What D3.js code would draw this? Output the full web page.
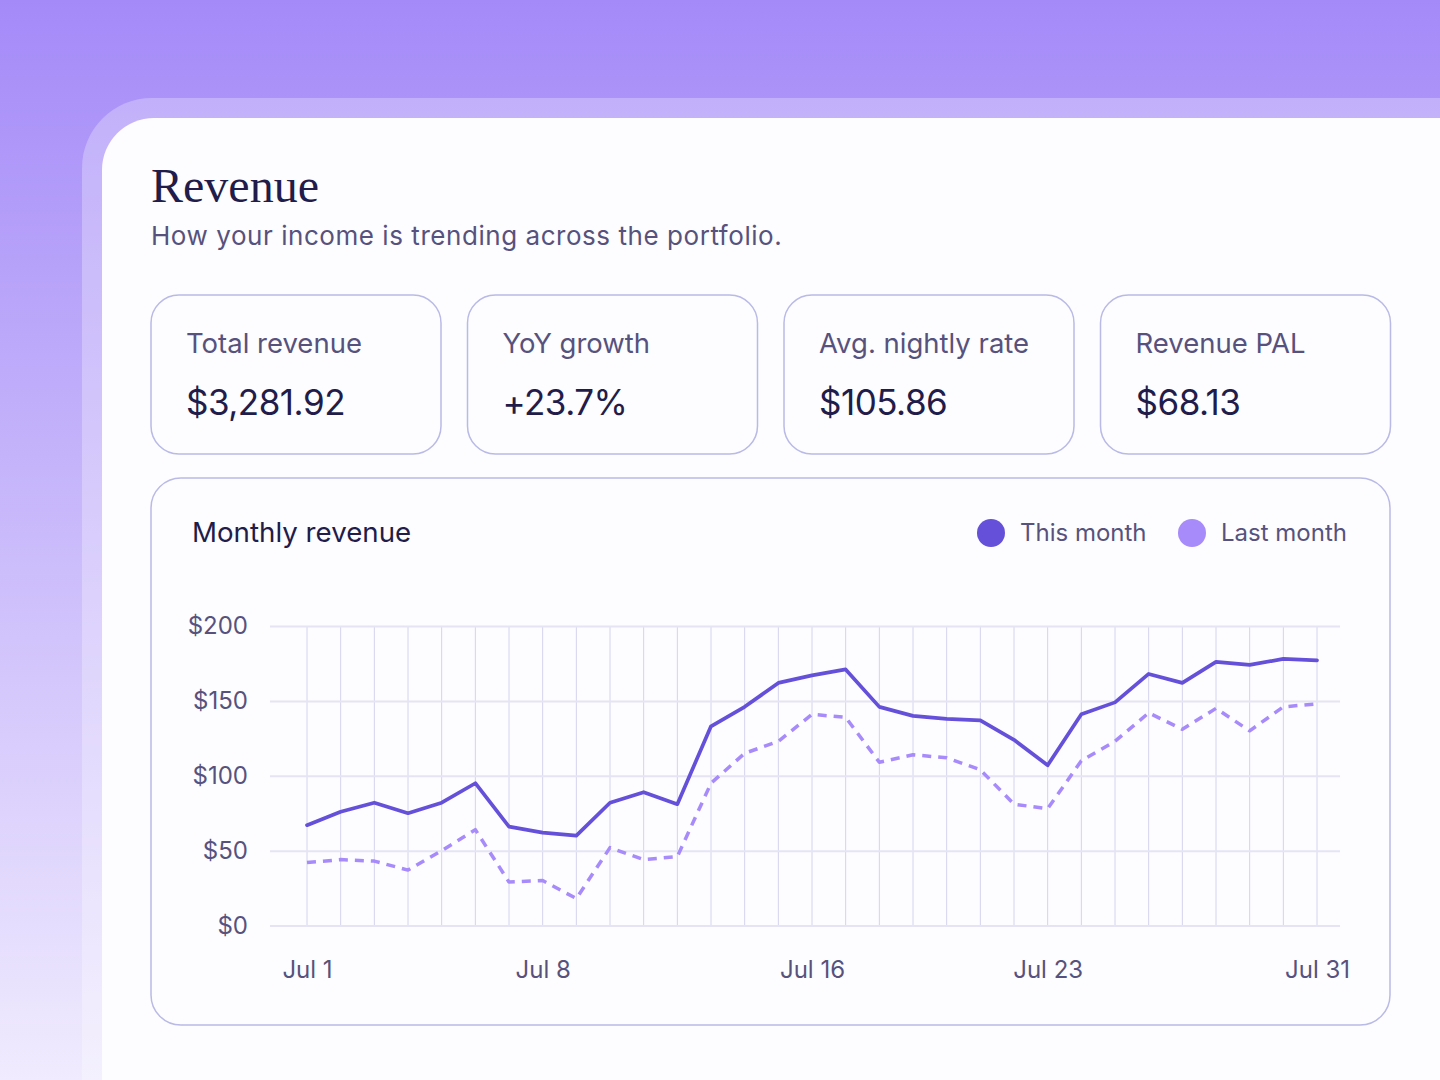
<!DOCTYPE html>
<html>
<head>
<meta charset="utf-8">
<script src="https://cdn.jsdelivr.net/npm/d3@7"></script>
<style>
  html, body { margin: 0; padding: 0; background: #fdfdff; }
  svg { display: block; }
</style>
</head>
<body>
<div id="chart"></div>
<script>
// Days of July (category axis)
const days = [1, 2, 3, 4, 5, 6, 7, 8, 9, 10, 11, 12, 13, 14, 15, 16,
  17, 18, 19, 20, 21, 22, 23, 24, 25, 26, 27, 28, 29, 30, 31];

const thisMonth = [67, 76, 82, 75, 82, 95, 66, 62, 60, 82, 89, 81, 133, 146, 162, 167,
  171, 146, 140, 138, 137, 124, 107, 141, 149, 168, 162, 176, 174, 178, 177];

const lastMonth = [42, 44, 43, 37, 50, 64, 29, 30, 18, 52, 44, 46, 95, 115, 123, 141,
  139, 109, 114, 112, 104, 81, 78, 110, 123, 142, 131, 145, 130, 146, 148];

const xTicks = [1, 8, 16, 23, 31];
const yTicks = [0, 50, 100, 150, 200];

const kpiLabels = ["Total revenue", "YoY growth", "Avg. nightly rate", "Revenue PAL"];
const kpiValues = ["$3,281.92", "+23.7%", "$105.86", "$68.13"];

const seriesNames = ["This month", "Last month"];

const width = 1440;
const height = 1080;
const sans = "Inter, 'Open Sans', sans-serif";
const serif = "'Liberation Serif', 'DejaVu Serif', serif";
const labelColor = "#57527d";
const inkColor = "#211c4a";
const cardStroke = "#b9bae6";
const colorThis = "#6550d9";
const colorLast = "#a78bfa";

const svg = d3
  .create("svg")
  .attr("viewBox", [0, 0, width, height])
  .attr("width", width)
  .attr("height", height);

// Background gradient
const defs = svg.append("defs");
const grad = defs
  .append("linearGradient")
  .attr("id", "bg")
  .attr("x1", 0).attr("y1", 0)
  .attr("x2", 0).attr("y2", 1);
grad.append("stop").attr("offset", "0%").attr("stop-color", "#a48af8");
grad.append("stop").attr("offset", "100%").attr("stop-color", "#f0ebfe");

svg.append("rect")
  .attr("width", width)
  .attr("height", height)
  .attr("fill", "url(#bg)");

// Frame band + white panel
svg.append("rect")
  .attr("x", 82).attr("y", 98)
  .attr("width", 1500).attr("height", 1100)
  .attr("rx", 70)
  .attr("fill", "#ffffff")
  .attr("fill-opacity", 0.28);

svg.append("rect")
  .attr("x", 102).attr("y", 118)
  .attr("width", 1500).attr("height", 1100)
  .attr("rx", 52)
  .attr("fill", "#fdfdff");

// Title
svg.append("text")
  .attr("x", 151).attr("y", 202)
  .attr("font-family", serif)
  .attr("font-size", 48)
  .attr("fill", inkColor)
  .text("Revenue");

svg.append("text")
  .attr("x", 151).attr("y", 245)
  .attr("font-family", sans)
  .attr("font-size", 26)
  .attr("letter-spacing", 0.55)
  .attr("fill", labelColor)
  .text("How your income is trending across the portfolio.");

// KPI cards
const cards = svg.append("g")
  .selectAll("g")
  .data(kpiLabels.map((label, i) => ({ label, value: kpiValues[i], i })))
  .join("g")
  .attr("transform", (d) => `translate(${151 + d.i * 316.5},295)`);

cards.append("rect")
  .attr("width", 290).attr("height", 159)
  .attr("rx", 28)
  .attr("fill", "#fdfdff")
  .attr("stroke", cardStroke)
  .attr("stroke-width", 1.5);

cards.append("text")
  .attr("x", 35).attr("y", 58)
  .attr("font-family", sans)
  .attr("font-size", 27.5)
  .attr("fill", labelColor)
  .text((d) => d.label);

cards.append("text")
  .attr("x", 35).attr("y", 120)
  .attr("font-family", sans)
  .attr("font-size", 35)
  .attr("letter-spacing", -0.5)
  .attr("fill", inkColor)
  .text((d) => d.value);

// Chart card
svg.append("rect")
  .attr("x", 151).attr("y", 478)
  .attr("width", 1239).attr("height", 547)
  .attr("rx", 30)
  .attr("fill", "#fdfdff")
  .attr("stroke", cardStroke)
  .attr("stroke-width", 1.5);

svg.append("text")
  .attr("x", 192).attr("y", 542)
  .attr("font-family", sans)
  .attr("font-size", 27.7)
  .attr("fill", inkColor)
  .text("Monthly revenue");

// Legend
const legend = svg.append("g")
  .selectAll("g")
  .data(seriesNames.map((name, i) => ({ name, color: i === 0 ? colorThis : colorLast, x: i === 0 ? 991 : 1192 })))
  .join("g")
  .attr("transform", (d) => `translate(${d.x},533)`);

legend.append("circle")
  .attr("r", 14)
  .attr("fill", (d) => d.color);

legend.append("text")
  .attr("x", 29)
  .attr("dy", "0.35em")
  .attr("font-family", sans)
  .attr("font-size", 24)
  .attr("fill", labelColor)
  .text((d) => d.name);

// Scales
const x = d3.scaleLinear().domain([1, 31]).range([307, 1317]);
const y = d3.scaleLinear().domain([0, 200]).range([925.5, 626]);
const gridLeft = 270;
const gridRight = 1340;

// Vertical day gridlines
svg.append("g")
  .selectAll("line")
  .data(days)
  .join("line")
  .attr("x1", (d) => x(d)).attr("x2", (d) => x(d))
  .attr("y1", y(200)).attr("y2", y(0))
  .attr("stroke", "#d4d2ec")
  .attr("stroke-width", 1);

// Y axis with horizontal gridlines
const yAxis = svg.append("g")
  .attr("transform", `translate(${gridLeft},0)`)
  .call(
    d3.axisLeft(y)
      .tickValues(yTicks)
      .tickSize(-(gridRight - gridLeft))
      .tickPadding(22)
      .tickFormat((d) => `$${d}`)
  );
yAxis.select(".domain").remove();
yAxis.selectAll(".tick line")
  .attr("stroke", "#e5e3f4")
  .attr("stroke-width", 2);
yAxis.selectAll(".tick text")
  .attr("font-family", sans)
  .attr("font-size", 24)
  .attr("fill", labelColor);

// X axis labels
const xAxis = svg.append("g")
  .attr("transform", `translate(0,${y(0)})`)
  .call(
    d3.axisBottom(x)
      .tickValues(xTicks)
      .tickSize(0)
      .tickPadding(35)
      .tickFormat((d) => `Jul ${d}`)
  );
xAxis.select(".domain").remove();
xAxis.selectAll(".tick text")
  .attr("font-family", sans)
  .attr("font-size", 24)
  .attr("fill", labelColor);

// Lines
const line = d3.line()
  .x((d, i) => x(days[i]))
  .y((d) => y(d));

svg.append("path")
  .datum(lastMonth)
  .attr("d", line)
  .attr("fill", "none")
  .attr("stroke", colorLast)
  .attr("stroke-width", 3.5)
  .attr("stroke-dasharray", "9,7")
  .attr("stroke-linejoin", "round");

svg.append("path")
  .datum(thisMonth)
  .attr("d", line)
  .attr("fill", "none")
  .attr("stroke", colorThis)
  .attr("stroke-width", 3.7)
  .attr("stroke-linejoin", "round")
  .attr("stroke-linecap", "round");

d3.select("#chart").append(() => svg.node());
</script>
</body>
</html>
